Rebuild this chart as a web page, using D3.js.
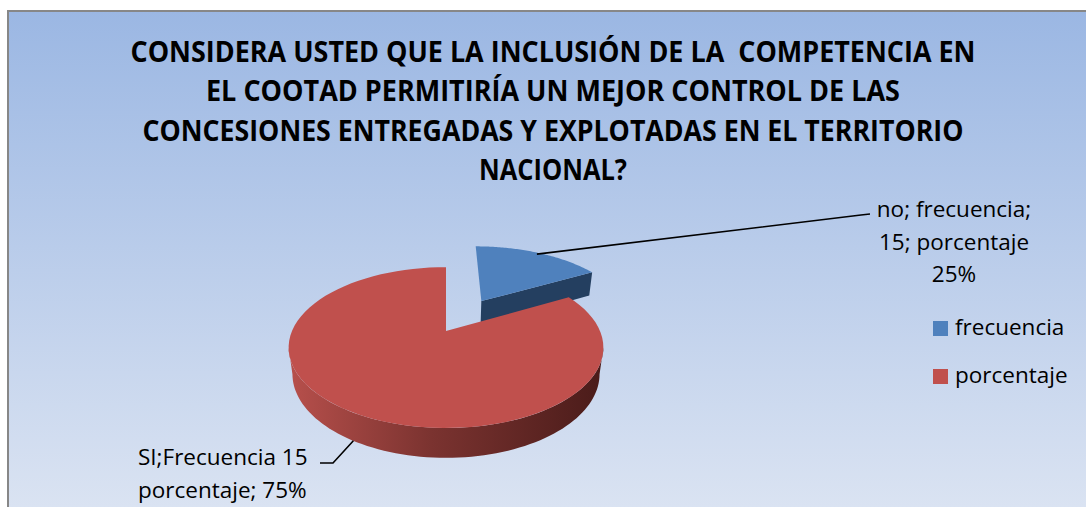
<!DOCTYPE html>
<html>
<head>
<meta charset="utf-8">
<script src="https://cdn.jsdelivr.net/npm/d3@7"></script>
<style>
  body { margin: 0; background: #fff; }
  svg { display: block; }
  text { white-space: pre; }
</style>
</head>
<body>
<div id="container"></div>
<script>
/** DATA */
const titleLines = [
  "CONSIDERA USTED QUE LA INCLUSIÓN DE LA  COMPETENCIA EN",
  "EL COOTAD PERMITIRÍA UN MEJOR CONTROL DE LAS",
  "CONCESIONES ENTREGADAS Y EXPLOTADAS EN EL TERRITORIO",
  "NACIONAL?"
];
const categories = ["no", "SI"];
const sliceShares = [17, 83];          // share of the drawn pie
const labelLines = [
  ["no; frecuencia;", "15; porcentaje", "25%"],
  ["SI;Frecuencia 15", "porcentaje; 75%"]
];
const legendNames = ["frecuencia", "porcentaje"];

/** CONSTANTS */
const width = 1086, height = 507;
const topColors = ["#4F81BD", "#C0504D"];
const sideColors = [["#3A5F8C", "#243F60"], ["#B64F4B", "#4B1C1A"]];
const explode = [0.49, 0];

// 3d projection of the tilted disk
const elev = 30 * Math.PI / 180, D = 4.2, k = 154, cx = 446, cy = 331, thick = 0.2;
function proj(X, Z, h) {
  const yUp = Z * Math.sin(elev) + h * Math.cos(elev);
  const depth = D + Z * Math.cos(elev) - h * Math.sin(elev);
  const r = D / depth;
  return [cx + k * X * r, cy - k * yUp * r];
}

const svg = d3.select("#container").append("svg")
  .attr("width", width).attr("height", height);

const defs = svg.append("defs");
const bg = defs.append("linearGradient").attr("id", "bg")
  .attr("gradientUnits", "userSpaceOnUse")
  .attr("x1", 0).attr("y1", 11).attr("x2", 0).attr("y2", height);
bg.append("stop").attr("offset", 0).attr("stop-color", "#9BB7E3");
bg.append("stop").attr("offset", 1).attr("stop-color", "#DAE3F2");

sideColors.forEach((c, i) => {
  const g = defs.append("linearGradient").attr("id", "side" + i)
    .attr("gradientUnits", "userSpaceOnUse")
    .attr("x1", cx - k).attr("y1", 0).attr("x2", cx + k).attr("y2", 0);
  g.append("stop").attr("offset", 0).attr("stop-color", c[0]);
  g.append("stop").attr("offset", 0.45).attr("stop-color", d3.interpolateRgb(c[0], c[1])(0.55));
  g.append("stop").attr("offset", 1).attr("stop-color", c[1]);
});

// chart area
svg.append("rect")
  .attr("x", 8).attr("y", 11).attr("width", width + 10).attr("height", height)
  .attr("fill", "url(#bg)").attr("stroke", "#878787").attr("stroke-width", 2);

// title
svg.append("g").selectAll("text")
  .data(titleLines)
  .join("text")
  .attr("x", 553)
  .attr("y", (d, i) => 62 + i * 39.3)
  .attr("text-anchor", "middle")
  .attr("font-family", "'Open Sans', sans-serif")
  .attr("font-weight", "bold")
  .attr("font-size", 28)
  .attr("fill", "#000")
  .attr("textLength", (d, i) => [845, 694, 821, 148][i])
  .attr("lengthAdjust", "spacingAndGlyphs")
  .text(d => d);

// pie
const pie = d3.pie().sort(null).startAngle(0).endAngle(2 * Math.PI).value(d => d);
const arcs = pie(sliceShares).map((a, i) => {
  const mid = (a.startAngle + a.endAngle) / 2;
  return { ...a, i, mid, ox: explode[i] * Math.sin(mid), oz: explode[i] * Math.cos(mid) };
});

const line = d3.line();
const tS = Math.acos(-Math.cos(elev) / D);
const N = 80;
function ring(a, t0, t1, h) {
  const pts = [];
  for (let s = 0; s <= N; s++) {
    const t = t0 + (t1 - t0) * s / N;
    pts.push(proj(a.ox + Math.sin(t), a.oz + Math.cos(t), h));
  }
  return pts;
}

const pieG = svg.append("g");
// far slices first
arcs.slice().sort((a, b) => (b.oz + Math.cos(b.mid)) - (a.oz + Math.cos(a.mid)))
  .forEach(a => {
    const g = pieG.append("g");
    const dark = sideColors[a.i][1];
    // radial faces
    [[a.endAngle, Math.sin(a.endAngle) > 0.01], [a.startAngle, Math.sin(a.startAngle) < -0.01]]
      .filter(f => f[1])
      .forEach(([t]) => {
        const pts = [
          proj(a.ox, a.oz, 0),
          proj(a.ox + Math.sin(t), a.oz + Math.cos(t), 0),
          proj(a.ox + Math.sin(t), a.oz + Math.cos(t), -thick),
          proj(a.ox, a.oz, -thick)
        ];
        g.append("path").attr("d", line(pts) + "Z").attr("fill", dark);
      });
    // outer wall
    const ws = Math.max(a.startAngle, tS), we = Math.min(a.endAngle, 2 * Math.PI - tS);
    if (ws < we) {
      const pts = ring(a, ws, we, 0).concat(ring(a, we, ws, -thick));
      g.append("path").attr("d", line(pts) + "Z").attr("fill", `url(#side${a.i})`);
    }
    // top face
    const top = [proj(a.ox, a.oz, 0)].concat(ring(a, a.startAngle, a.endAngle, 0));
    g.append("path").attr("d", line(top) + "Z").attr("fill", topColors[a.i]);
  });

// data labels with leader lines
const labelFont = "'Open Sans', sans-serif";
const noA = arcs[0];
const noAnchor = proj(noA.ox + Math.sin(noA.mid) * 0.97, noA.oz + Math.cos(noA.mid) * 0.97, 0);
svg.append("path")
  .attr("d", line([noAnchor, [861, 215], [870, 214]]))
  .attr("fill", "none").attr("stroke", "#000").attr("stroke-width", 1.6);
svg.append("g").selectAll("text")
  .data(labelLines[0])
  .join("text")
  .attr("x", 954).attr("y", (d, i) => 217 + i * 32.5)
  .attr("text-anchor", "middle")
  .attr("font-family", labelFont).attr("font-size", 22.5).attr("fill", "#000")
  .text(d => d);

const siA = arcs[1];
const siAnchor = proj(siA.ox + Math.sin(siA.mid), siA.oz + Math.cos(siA.mid), -thick);
svg.append("path")
  .attr("d", line([siAnchor, [333, 463], [320, 463]]))
  .attr("fill", "none").attr("stroke", "#000").attr("stroke-width", 1.6);
svg.append("g").selectAll("text")
  .data(labelLines[1])
  .join("text")
  .attr("x", 138).attr("y", (d, i) => 465 + i * 33)
  .attr("font-family", labelFont).attr("font-size", 22.5).attr("fill", "#000")
  .text(d => d);

// legend
const legend = svg.append("g").selectAll("g")
  .data(legendNames)
  .join("g")
  .attr("transform", (d, i) => `translate(933, ${321 + i * 48})`);
legend.append("rect")
  .attr("width", 15).attr("height", 15)
  .attr("fill", (d, i) => topColors[i]);
legend.append("text")
  .attr("x", 22).attr("y", 14)
  .attr("font-family", labelFont).attr("font-size", 22.5).attr("fill", "#000")
  .text(d => d);
</script>
</body>
</html>
